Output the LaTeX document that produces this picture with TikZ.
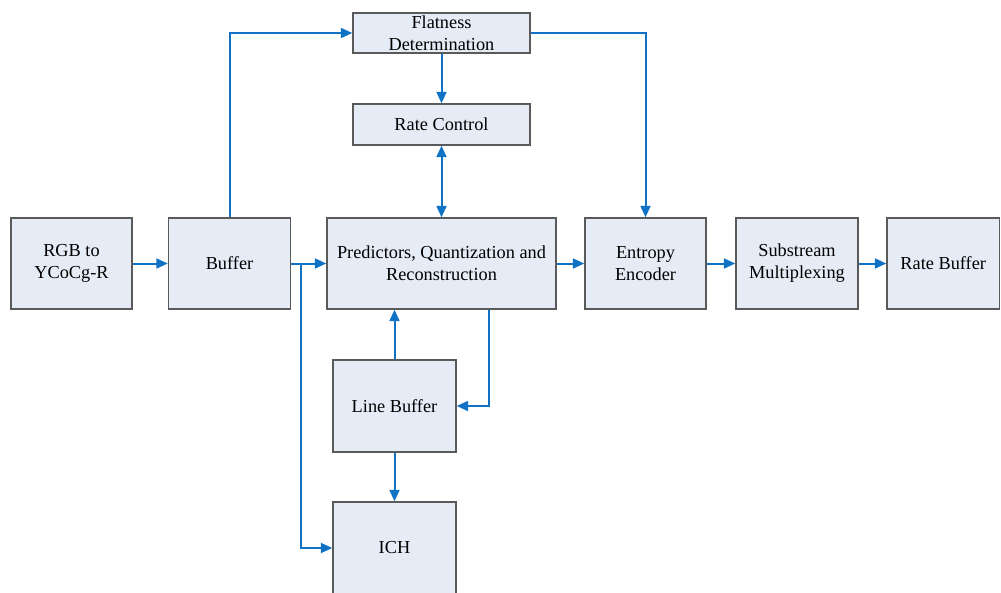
\documentclass[tikz,border=0pt]{standalone}
\usepackage{fontspec}
\setmainfont{Liberation Serif}
\usetikzlibrary{arrows.meta}
\definecolor{boxfill}{HTML}{E6ECF6}
\definecolor{boxline}{HTML}{5A5A5A}
\definecolor{flow}{HTML}{0F72C4}
\begin{document}
\begin{tikzpicture}[x=1pt,y=-1pt,
  block/.style={draw=boxline,fill=boxfill,line width=1.4pt,inner sep=0pt,
    align=center,font=\fontsize{18.3}{21.8}\selectfont},
  tip/.tip={Triangle[length=11.5pt,width=10pt]},
  flowline/.style={draw=flow,line width=2pt,-tip},
  plainline/.style={draw=flow,line width=2pt}]
\useasboundingbox (0,0) rectangle (1001,592);
% main processing chain
\node[block,minimum width=121pt,minimum height=91pt] (rgb) at (71.5,263.5) {RGB to\\YCoCg-R};
\node[block,minimum width=122pt,minimum height=91pt] (buf) at (229.5,263.5) {Buffer};
\node[block,minimum width=229pt,minimum height=91pt] (pqr) at (441.5,263.5) {Predictors, Quantization and\\Reconstruction};
\node[block,minimum width=121pt,minimum height=91pt] (ent) at (645.5,263.5) {Entropy\\Encoder};
\node[block,minimum width=122pt,minimum height=91pt] (sub) at (797,263.5) {Substream\\Multiplexing};
\node[block,minimum width=112.5pt,minimum height=91pt] (rbuf) at (943.25,263.5) {Rate Buffer};
% control path
\node[block,minimum width=177pt,minimum height=40pt] (flat) at (441.5,33) {Flatness\\Determination};
\node[block,minimum width=177pt,minimum height=41pt] (rc) at (441.5,124.5) {Rate Control};
% lower buffers
\node[block,minimum width=123pt,minimum height=92pt] (lb) at (394.5,406) {Line Buffer};
\node[block,minimum width=123pt,minimum height=92pt] (ich) at (394.5,548) {ICH};
% junctions
\coordinate (split) at (301,263.5);
\coordinate (pqrtap) at ([xshift=-68pt]pqr.south east);
% connectors
\draw[flowline] (rgb.east) -- (buf.west);
\draw[flowline] (buf.east) -- (pqr.west);
\draw[flowline] (split) |- (ich.west);
\draw[flowline] (buf.north) |- (flat.west);
\draw[flowline] (flat.east) -| (ent.north);
\draw[flowline] (flat.south) -- (rc.north);
\draw[plainline,tip-tip] (rc.south) -- (pqr.north);
\draw[flowline] (pqr.east) -- (ent.west);
\draw[flowline] (ent.east) -- (sub.west);
\draw[flowline] (sub.east) -- (rbuf.west);
\draw[flowline] (lb.north) -- (lb.north |- pqr.south);
\draw[flowline] (pqrtap) |- (lb.east);
\draw[flowline] (lb.south) -- (ich.north);
\end{tikzpicture}
\end{document}
